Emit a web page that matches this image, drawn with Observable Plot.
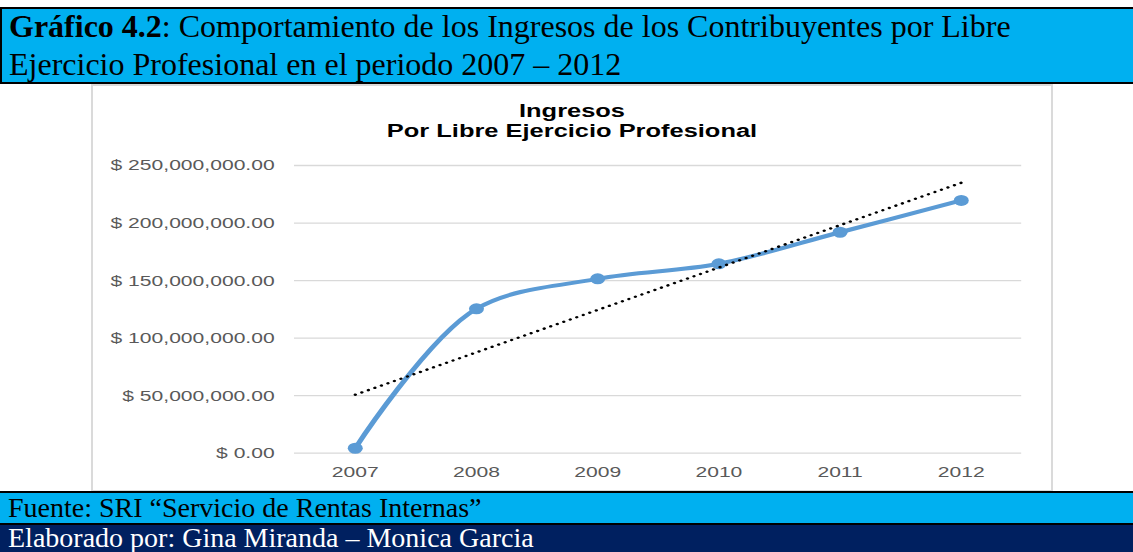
<!DOCTYPE html>
<html>
<head>
<meta charset="utf-8">
<script src="https://cdn.jsdelivr.net/npm/d3@7"></script>
<script src="https://cdn.jsdelivr.net/npm/@observablehq/plot@0.6"></script>
<style>
  html, body { margin: 0; padding: 0; background: #fff; }
  body { position: relative; width: 1133px; height: 552px; overflow: hidden; }
  .serif { font-family: "Liberation Serif", "Times New Roman", serif; color: #000; }
  #header {
    position: absolute; left: 0; top: 7px; width: 1135px; height: 77px;
    box-sizing: border-box; border: 2px solid #000; background: #00B0F0;
    font-size: 32px; line-height: 38px; padding-left: 7px; white-space: nowrap;
  }
  #header .txt { margin-top: -2px; }
  #box {
    position: absolute; left: 91px; top: 84px; width: 962px; height: 408px;
    box-sizing: border-box; border: 2px solid #dadada; background: #fff;
  }
  #inner { width: 704px; transform: scaleX(1.3608); transform-origin: 0 0; }
  #ctitle {
    height: 57px; box-sizing: border-box; padding-top: 14.8px; text-align: center;
    font-family: "Liberation Sans", Arial, sans-serif; font-weight: bold;
    font-size: 18.7px; line-height: 20.5px; color: #000;
  }
  #f1 {
    position: absolute; left: 0; top: 491px; width: 1133px; height: 34px;
    box-sizing: border-box; border-top: 2px solid #000; border-bottom: 2px solid #000;
    background: #00B0F0; font-size: 28px; line-height: 30px; padding-left: 8px; white-space: nowrap;
  }
  #f2 {
    position: absolute; left: 0; top: 525px; width: 1133px; height: 27px;
    box-sizing: border-box; background: #002060; color: #fff;
    font-size: 28px; line-height: 26px; padding-left: 8px; padding-top: 0px; white-space: nowrap;
  }
</style>
</head>
<body>
<div id="header" class="serif"><div class="txt"><b>Gráfico 4.2</b>: Comportamiento de los Ingresos de los Contribuyentes por Libre<br>Ejercicio Profesional en el periodo 2007 – 2012</div></div>
<div id="box"><div id="inner"><div id="ctitle">Ingresos<br>Por Libre Ejercicio Profesional</div><div id="chart"></div></div></div>
<div id="f1" class="serif">Fuente: SRI “Servicio de Rentas Internas”</div>
<div id="f2" class="serif" style="color:#fff">Elaborado por: Gina Miranda – Monica Garcia</div>
<script>
const years = [2007, 2008, 2009, 2010, 2011, 2012];
const ingresos = [4300000, 125500000, 151500000, 164600000, 192000000, 219600000];
const yTicks = [0, 50000000, 100000000, 150000000, 200000000, 250000000];

const data = years.map((year, i) => ({year, value: ingresos[i]}));
const fmtMoney = d => "$ " + d3.format(",.2f")(d);

const chart = Plot.plot({
  width: 704,
  height: 347,
  marginTop: 22,
  marginBottom: 37.3,
  marginLeft: 147.7,
  marginRight: 21.9,
  style: {
    fontFamily: "'Liberation Sans', Arial, sans-serif",
    fontSize: "15.5px",
    color: "#595959",
    background: "transparent",
    overflow: "visible"
  },
  x: {
    type: "linear",
    domain: [years[0] - 0.5, years[years.length - 1] + 0.5],
    ticks: years,
    tickFormat: d => String(d),
    tickSize: 0,
    tickPadding: 12.5,
    label: null,
    line: false
  },
  y: {
    domain: [0, 250000000],
    ticks: yTicks,
    tickFormat: fmtMoney,
    tickSize: 0,
    tickPadding: 14.7,
    label: null
  },
  marks: [
    Plot.gridY(yTicks, {stroke: "#d9d9d9", strokeOpacity: 1, strokeWidth: 1.3}),
    Plot.line(data, {x: "year", y: "value", stroke: "#5B9BD5", strokeWidth: 4, curve: "catmull-rom"}),
    Plot.dot(data, {x: "year", y: "value", r: 5.5, fill: "#5B9BD5", stroke: "none"}),
    Plot.linearRegressionY(data, {x: "year", y: "value", stroke: "#000", strokeWidth: 2.4,
      strokeDasharray: "0.1 5.2", strokeLinecap: "round", ci: 0})
  ]
});
document.getElementById("chart").appendChild(chart);
</script>
</body>
</html>
